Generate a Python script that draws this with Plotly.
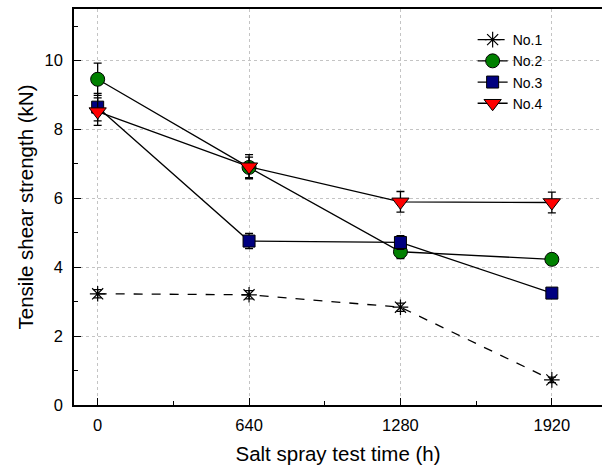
import plotly.graph_objects as go

time_h = [0, 640, 1280, 1920]
no1 = [3.23, 3.20, 2.84, 0.73]
no1_err = [0.12, 0.12, 0.12, 0.08]
no2 = [9.46, 6.90, 4.45, 4.23]
no2_err = [0.47, 0.30, 0.20, 0.15]
no3 = [8.65, 4.76, 4.72, 3.25]
no3_err = [0.40, 0.22, 0.20, 0.08]
no4 = [8.52, 6.92, 5.90, 5.88]
no4_err = [0.40, 0.35, 0.30, 0.30]

series = [
    ("No.1", no1, no1_err, dict(symbol="asterisk-open", size=13, color="black",
                                 line=dict(color="black", width=1.2)), "dash"),
    ("No.2", no2, no2_err, dict(symbol="circle", size=14, color="#008000",
                                 line=dict(color="black", width=1)), "solid"),
    ("No.3", no3, no3_err, dict(symbol="square", size=12, color="#000080",
                                 line=dict(color="black", width=1)), "solid"),
    ("No.4", no4, no4_err, dict(symbol="triangle-down", size=15, color="#ff0000",
                                 line=dict(color="black", width=1)), "solid"),
]

fig = go.Figure()
for name, vals, errs, marker, dash in series:
    fig.add_trace(go.Scatter(
        x=time_h, y=vals, name=name, mode="lines+markers",
        line=dict(color="black", width=1.3, dash=dash),
        marker=marker,
        error_y=dict(type="data", array=errs, visible=True, color="black",
                     thickness=1.3, width=4),
    ))

font = "Liberation Sans, Arial, sans-serif"
fig.update_layout(
    width=602, height=469,
    margin=dict(l=74, r=0, t=9, b=64),
    paper_bgcolor="white", plot_bgcolor="white",
    font=dict(family=font, size=15, color="black"),
    showlegend=True,
    legend=dict(x=0.755, y=0.962, xanchor="left", yanchor="top",
                bgcolor="rgba(0,0,0,0)", font=dict(size=14),
                tracegroupgap=0, itemwidth=30),
    xaxis=dict(
        range=[-100, 2132], tickvals=time_h, ticktext=[str(t) for t in time_h],
        ticks="inside", ticklen=7, tickwidth=1, tickcolor="black",
        showline=True, linecolor="black", linewidth=1.5, mirror=True,
        showgrid=True, gridcolor="#c4c4c4", griddash="dot", gridwidth=1,
        zeroline=False, ticklabelstandoff=4,
        minor=dict(dtick=320, tick0=0, ticks="inside", ticklen=4,
                   tickcolor="black", showgrid=False),
        title=dict(text="Salt spray test time (h)", font=dict(size=20.5), standoff=14),
        tickfont=dict(size=16.5),
    ),
    yaxis=dict(
        range=[0, 11.5], dtick=2, tick0=0,
        ticks="inside", ticklen=7, tickwidth=1, tickcolor="black",
        showline=True, linecolor="black", linewidth=1.5, mirror=False,
        showgrid=True, gridcolor="#c4c4c4", griddash="dot", gridwidth=1,
        zeroline=False, ticklabelstandoff=6,
        minor=dict(dtick=1, tick0=0, ticks="inside", ticklen=4,
                   tickcolor="black", showgrid=False),
        title=dict(text="Tensile shear strength (kN)", font=dict(size=20.5), standoff=5),
        tickfont=dict(size=16.5),
    ),
)

fig.write_html("out.html")
